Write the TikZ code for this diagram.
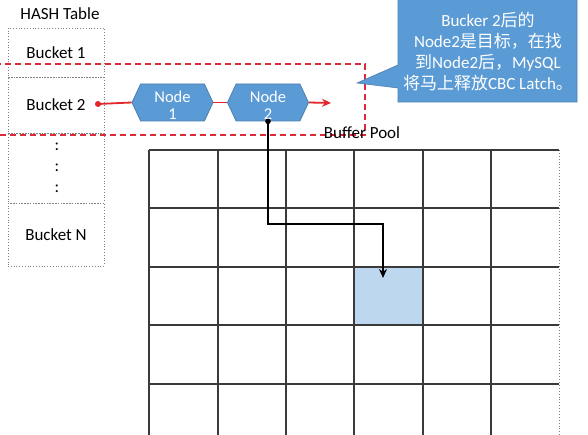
\documentclass[tikz,border=0pt]{standalone}
\usepackage{fontspec}
\setmainfont{Carlito}
\newfontfamily\cjk{Noto Sans CJK SC}
\usetikzlibrary{shapes.symbols,arrows.meta}
\definecolor{nodeblue}{HTML}{5B9BD5}
\definecolor{nodeedge}{HTML}{4A7FB0}
\definecolor{cellblue}{HTML}{BDD7EE}
\definecolor{linered}{HTML}{E3262A}
\definecolor{dashred}{HTML}{DC2A3A}
\definecolor{gridgray}{HTML}{3A3A3A}
\tikzset{
  txt/.style={font=\fontsize{17}{21}\selectfont, inner sep=0pt},
  gridline/.style={draw=gridgray, line width=1.2pt},
  bucket/.style={draw=gray, dotted, line width=0.8pt, minimum width=96pt, inner sep=0pt, txt},
  listnode/.style={signal, signal to=west and east, signal pointer angle=130,
    fill=nodeblue, draw=nodeedge, line width=0.8pt, minimum width=81pt,
    minimum height=37pt, inner sep=0pt},
  nodetext/.style={text=white, align=center, inner sep=0pt,
    font=\fontsize{16.5}{16.5}\selectfont},
  redline/.style={draw=linered, line width=1.8pt},
  reddash/.style={draw=dashred, line width=1.4pt, dash pattern=on 6pt off 4pt},
  blackarrow/.style={draw=black, line width=1.8pt, -{Stealth[length=9pt,width=8pt]}},
}
\begin{document}
\begin{tikzpicture}[x=1pt,y=-1pt]
\useasboundingbox (0,0) rectangle (588,435);
% buffer pool grid
\node[fill=cellblue, minimum width=69pt, minimum height=58pt, inner sep=0pt] (target) at (388.5,296) {};
\foreach \x in {149,218,286,354,423,491} \draw[gridline] (\x,150) -- (\x,440);
\foreach \y in {150,208,267,325,384} \draw[gridline] (149,\y) -- (559,\y);
\draw[gray, dotted, line width=0.9pt] (559,150) -- (559,440);
% hash table
\node[txt] (ht) at (60,14) {HASH Table};
\node[bucket, minimum height=49pt] (b1) at (56,52.5) {Bucket 1};
\node[bucket, minimum height=56pt] (b2) at (56,105) {Bucket 2};
\node[bucket, minimum height=70pt] (bd) at (56,168) {};
\node[bucket, minimum height=63pt] (bn) at (56,234.5) {Bucket N};
\node[txt] (c1) at (57,147) {:};
\node[txt] (c2) at (57,168) {:};
\node[txt] (c3) at (57,189) {:};
% red dashed box
\draw[reddash] (-5,64) -- (365,64) -- (365,135) -- (-5,135);
% list nodes
\node[listnode] (n1) at (172.5,102.5) {};
\node[listnode] (n2) at (268,102.5) {};
\node[nodetext] (n1t) at (172.5,105.5) {Node\\1};
\node[nodetext] (n2t) at (268,105.5) {Node\\2};
\coordinate (rdot) at (98,104);
\coordinate (rend) at (331,103);
\draw[redline] (rdot) -- (n1.west);
\draw[redline] (n1.east) -- (n2.west);
\draw[redline, -{Stealth[length=9pt,width=8pt]}] (n2.east) -- (rend);
\fill[linered] (rdot) circle (3pt);
% black arrow
\coordinate (bend) at (383,224);
\coordinate (tipend) at (383,278);
\draw[blackarrow] (n2.south) |- (bend) -- (tipend);
\fill[black] (n2.south) circle (2.8pt);
% buffer pool label
\node[txt] (bp) at (362,133) {Buffer Pool};
% callout
\fill[nodeblue, draw=nodeedge, line width=0.6pt] (398,-2) -- (577,-2) -- (577,102) -- (398,102) -- (398,88) -- (357,83) -- (398,65) -- cycle;
\node[txt, text=white, align=center, font=\fontsize{17}{21}\selectfont] (co) at (488,52)
  {Bucker 2{\cjk 后的}\\Node2{\cjk 是目标，在找}\\{\cjk 到}Node2{\cjk 后，}MySQL\\{\cjk 将马上释放}CBC Latch{\cjk 。}};
\end{tikzpicture}
\end{document}
